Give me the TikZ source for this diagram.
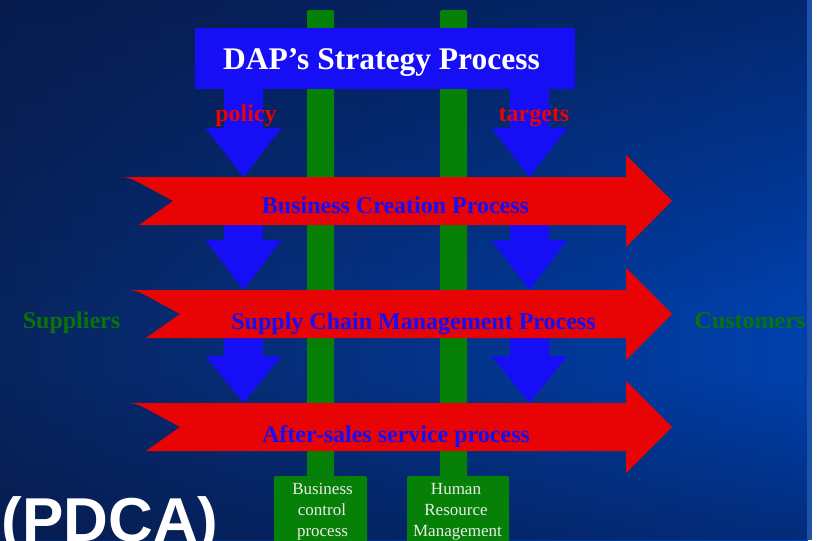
\documentclass[tikz,border=0pt]{standalone}
\usepackage{fontspec}
\setmainfont{Liberation Serif}
\setsansfont{Liberation Sans}
\usetikzlibrary{fadings}

\definecolor{bgleft}{RGB}{8,36,94}
\definecolor{bgmid}{RGB}{4,42,112}
\definecolor{bgright}{RGB}{0,64,172}
\definecolor{bgdark}{RGB}{6,20,62}
\definecolor{edgeblue}{RGB}{30,82,170}
\definecolor{flowred}{RGB}{232,4,4}
\definecolor{flowblue}{RGB}{22,14,244}
\definecolor{barGreen}{RGB}{6,128,6}
\definecolor{labelGreen}{RGB}{8,116,8}
\definecolor{boxwhite}{RGB}{236,236,236}

\tikzfading[name=fadedown, top color=transparent!0, bottom color=transparent!100]
\tikzfading[name=fadeup, top color=transparent!100, bottom color=transparent!0]

\tikzset{
  titlebox/.style={fill=flowblue, draw=none, minimum width=380pt, minimum height=61pt, inner sep=0pt},
  titletext/.style={text=white, font=\fontsize{31.5}{36}\selectfont\bfseries, inner sep=0pt},
  flowtext/.style={text=flowblue, font=\fontsize{24}{28}\selectfont\bfseries, inner sep=0pt},
  redtext/.style={text=flowred, font=\fontsize{24}{28}\selectfont\bfseries, inner sep=0pt},
  sidetext/.style={text=labelGreen, font=\fontsize{24}{28}\selectfont\bfseries, inner sep=0pt},
  greenbox/.style={fill=barGreen, draw=none, rounded corners=2pt, minimum width=93pt, minimum height=70pt, inner sep=0pt},
  boxtext/.style={text=boxwhite, font=\fontsize{17}{21}\selectfont, inner sep=0pt},
  pdcatext/.style={text=white, font=\sffamily\bfseries\fontsize{62}{70}\selectfont, inner sep=0pt},
  barfill/.style={fill=barGreen, rounded corners=1.5pt},
  dartfill/.style={fill=flowblue},
  bandfill/.style={fill=flowred}
}

% downward block arrow: centre x, shaft top, head top, tip
\newcommand\bluedart[4]{%
  \fill[dartfill] ({#1-19.5},#2) -- ({#1-19.5},#3) -- ({#1-38},#3) -- (#1,#4)
    -- ({#1+38},#3) -- ({#1+19.5},#3) -- ({#1+19.5},#2) -- cycle;}

% swallow-tailed process band: top y, bottom y, tail x
\newcommand\redband[3]{%
  \fill[bandfill] (#3,#1) .. controls ({#3+8},#1) and ({#3+12},{#1+2}) .. ({#3+18},{#1+5})
    -- ({#3+53},{(#1+#2)/2}) -- ({#3+19},#2) -- (626,#2) -- (626,{#2+22})
    -- (672,{(#1+#2)/2}) -- (626,{#1-22}) -- (626,#1) -- cycle;}

\begin{document}
\begin{tikzpicture}[x={(1pt,0pt)}, y={(0pt,-1pt)}]
  \useasboundingbox (0,0) rectangle (818,540);
  \clip (0,0) rectangle (818,540);

  % backdrop
  \fill[left color=bgleft, middle color=bgmid, right color=bgright] (0,0) rectangle (808,540);
  \fill[bgdark, path fading=fadedown, fill opacity=0.55] (0,0) rectangle (818,300);
  \fill[bgdark, path fading=fadeup, fill opacity=0.45] (0,380) rectangle (818,540);
  \fill[edgeblue] (807,0) rectangle (812,540);
  \fill[white] (812,0) rectangle (818,540);

  % support process bars
  \fill[barfill] (307,10) rectangle (334,482);
  \fill[barfill] (440,10) rectangle (467,482);

  % strategy box
  \node[titlebox] (title) at (385,58.5) {};
  \node[titletext, anchor=base] (titlelbl) at (381.5,70) {DAP’s Strategy Process};

  % policy / target flows
  \bluedart{243.5}{88}{128}{177}
  \bluedart{529.5}{88}{128}{177}
  \bluedart{243.5}{215}{240}{290}
  \bluedart{529.5}{215}{240}{290}
  \bluedart{243.5}{330}{356}{403}
  \bluedart{529.5}{330}{356}{403}

  % core processes
  \redband{177}{225}{120}
  \redband{290}{338}{127}
  \redband{403}{451}{127}

  \node[redtext, anchor=base] (policy) at (246,122) {policy};
  \node[redtext, anchor=base] (targets) at (534,122) {targets};

  \node[flowtext, anchor=base] (bcp) at (395.5,213) {Business Creation Process};
  \node[flowtext, anchor=base] (scm) at (413.5,329) {Supply Chain Management Process};
  \node[flowtext, anchor=base] (asp) at (396,442) {After-sales service process};

  \node[sidetext, anchor=base] (suppliers) at (71.5,328) {Suppliers};
  \node[sidetext, anchor=base] (customers) at (750,328) {Customers};

  % support process boxes
  \node[greenbox] (ctrlbox) at (320.5,511) {};
  \node[greenbox, minimum width=102pt] (hrbox) at (458,511) {};
  \node[boxtext, anchor=base] (ctrl1) at (322.5,494) {Business};
  \node[boxtext, anchor=base] (ctrl2) at (322,515) {control};
  \node[boxtext, anchor=base] (ctrl3) at (322.5,536) {process};
  \node[boxtext, anchor=base] (hr1) at (456,494) {Human};
  \node[boxtext, anchor=base] (hr2) at (456,515) {Resource};
  \node[boxtext, anchor=base] (hr3) at (457.5,536) {Management};

  \node[pdcatext, anchor=base west] (pdca) at (1.5,541) {(PDCA)};
\end{tikzpicture}
\end{document}
